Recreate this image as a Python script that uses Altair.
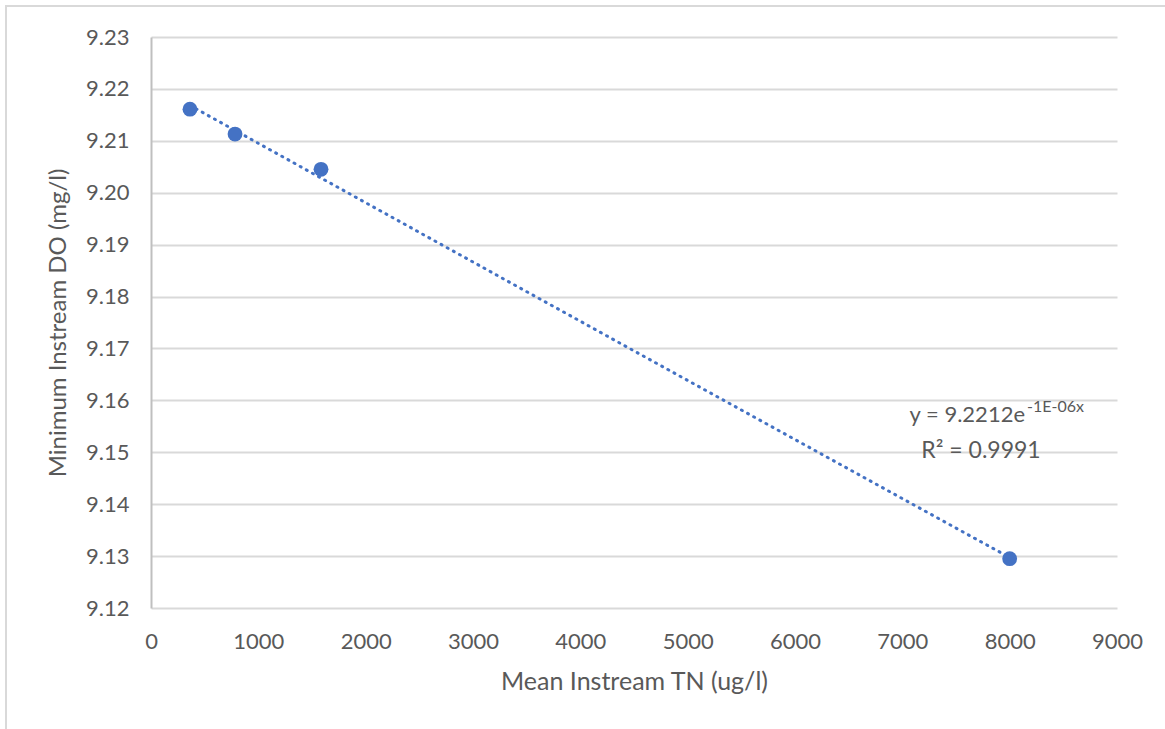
import altair as alt
import pandas as pd

# Data
tn = [363, 783, 1584, 8000]
do = [9.2161, 9.2113, 9.2045, 9.1295]

eq_main = "y = 9.2212e"
eq_sup = "-1E-06x"
r2_text = "R² = 0.9991"

FONT = "Lato"
TXT = "#595959"
BLUE = "#4472C4"

df = pd.DataFrame({"tn": tn, "do": do})

x_scale = alt.Scale(domain=[0, 9000], nice=False, zero=False)
y_scale = alt.Scale(domain=[9.12, 9.23], nice=False, zero=False)

x_enc = alt.X("tn:Q", scale=x_scale,
              axis=alt.Axis(title="Mean Instream TN (ug/l)", values=list(range(0, 9001, 1000)),
                            format="d", grid=False, domain=False, ticks=False,
                            labelFlush=False, labelPadding=23, titlePadding=17,
                            titleFontSize=25))
y_enc = alt.Y("do:Q", scale=y_scale,
              axis=alt.Axis(title="Minimum Instream DO (mg/l)",
                            values=[round(9.12 + 0.01 * i, 2) for i in range(12)],
                            format=".2f", grid=True, domain=True, ticks=False,
                            labelPadding=22, titlePadding=15, titleFontSize=24))

base = alt.Chart(df)

frame = base.mark_rect(fill=None, stroke="#d9d9d9", strokeWidth=2).encode(
    x=alt.value(-145), x2=alt.value(1100), y=alt.value(-31), y2=alt.value(800)
)

trend = base.transform_regression("tn", "do", method="exp").mark_line(
    color=BLUE, strokeWidth=3, strokeDash=[1, 6], strokeCap="round"
).encode(x=x_enc, y=y_enc)

pts = base.mark_point(filled=True, size=220, color=BLUE, opacity=1).encode(x=x_enc, y=y_enc)

ann = pd.DataFrame({"tn": [8143], "do": [9.1558]})
ann2 = pd.DataFrame({"tn": [7733], "do": [9.1489]})

t_main = alt.Chart(ann).mark_text(align="right", baseline="alphabetic", font=FONT,
                                  fontSize=22, color=TXT, text=eq_main).encode(
    x=alt.X("tn:Q", scale=x_scale), y=alt.Y("do:Q", scale=y_scale))
t_sup = alt.Chart(ann).mark_text(align="left", baseline="alphabetic", font=FONT,
                                 fontSize=16, color=TXT, dx=2, dy=-10, text=eq_sup).encode(
    x=alt.X("tn:Q", scale=x_scale), y=alt.Y("do:Q", scale=y_scale))
t_r2 = alt.Chart(ann2).mark_text(align="center", baseline="alphabetic", font=FONT,
                                 fontSize=23, color=TXT, text=r2_text).encode(
    x=alt.X("tn:Q", scale=x_scale), y=alt.Y("do:Q", scale=y_scale))

chart = alt.layer(frame, trend, pts, t_main, t_sup, t_r2).properties(
    width=966, height=571,
    autosize=alt.AutoSizeParams(type="none"),
    padding={"left": 151, "top": 37, "right": 48, "bottom": 121},
    background="white",
).configure_view(stroke=None).configure_axis(
    labelFont=FONT, titleFont=FONT, labelFontSize=22,
    labelColor=TXT, titleColor=TXT, titleFontWeight="normal",
    gridColor="#d9d9d9", gridWidth=2, domainColor="#bfbfbf", domainWidth=2,
)

chart.save("out.html", embed_options={"renderer": "svg", "actions": False})
